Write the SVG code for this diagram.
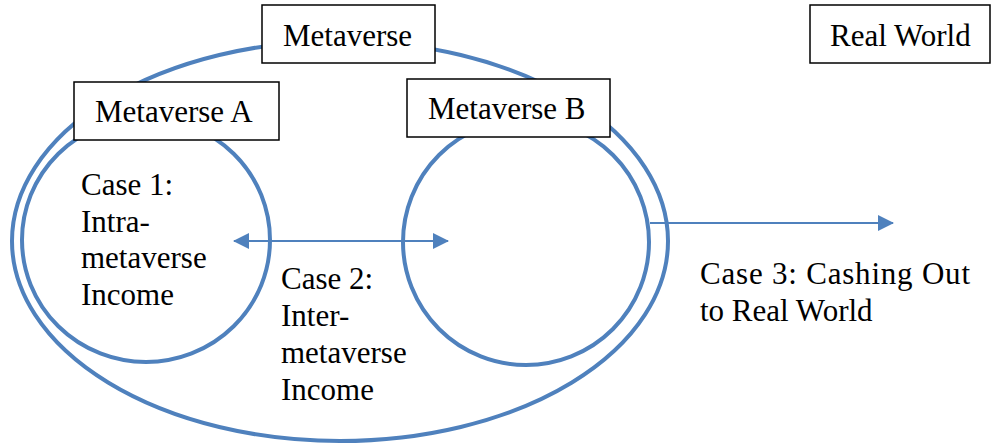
<svg xmlns="http://www.w3.org/2000/svg" width="992" height="446" viewBox="0 0 992 446">
<defs>
<style>
.ring{fill:none;stroke:#4F81BD;stroke-width:4}
.box{fill:#fff;stroke:#000;stroke-width:1.5}
.conn{stroke:#4F81BD;stroke-width:2;fill:none}
text{font-family:'Liberation Serif',serif;font-size:31px;fill:#000}
</style>
<marker id="ah" viewBox="0 0 16 16" refX="15" refY="8" markerWidth="16" markerHeight="16" markerUnits="userSpaceOnUse" orient="auto-start-reverse">
<path d="M0,0 L16,8 L0,16 Z" fill="#4F81BD"/>
</marker>
</defs>
<rect width="992" height="446" fill="#fff"/>
<g id="outer-metaverse">
<ellipse class="ring" cx="340" cy="241" rx="328" ry="200"/>
</g>
<g id="circle-a">
<ellipse class="ring" cx="146" cy="240" rx="124" ry="122"/>
</g>
<g id="circle-b">
<ellipse class="ring" cx="526" cy="242" rx="123" ry="123"/>
</g>
<g id="connectors">
<line class="conn" x1="234" y1="241" x2="448" y2="241" marker-start="url(#ah)" marker-end="url(#ah)"/>
<line class="conn" x1="650" y1="223" x2="893" y2="223" marker-end="url(#ah)"/>
</g>
<g id="box-metaverse">
<rect class="box" x="262" y="5" width="173" height="58"/>
<text x="283" y="46">Metaverse</text>
</g>
<g id="box-real-world">
<rect class="box" x="810" y="5" width="180" height="58"/>
<text x="830" y="46">Real World</text>
</g>
<g id="box-metaverse-a">
<rect class="box" x="74" y="82" width="205" height="58"/>
<text x="95" y="122">Metaverse A</text>
</g>
<g id="box-metaverse-b">
<rect class="box" x="407" y="79" width="203" height="58"/>
<text x="428" y="119">Metaverse B</text>
</g>
<g id="label-case1">
<text x="81" y="195">Case 1:</text>
<text x="81" y="232">Intra-</text>
<text x="81" y="268">metaverse</text>
<text x="81" y="305">Income</text>
</g>
<g id="label-case2">
<text x="281" y="289">Case 2:</text>
<text x="281" y="326">Inter-</text>
<text x="281" y="363">metaverse</text>
<text x="281" y="400">Income</text>
</g>
<g id="label-case3">
<text x="700" y="284" textLength="270">Case 3: Cashing Out</text>
<text x="700" y="321">to Real World</text>
</g>
</svg>
